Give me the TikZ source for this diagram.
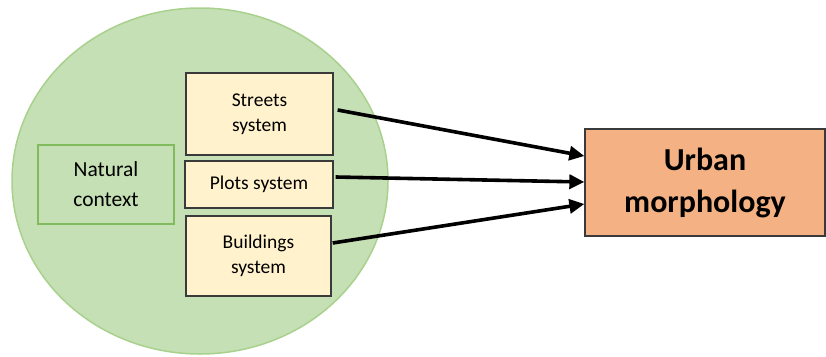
\documentclass[tikz,border=0pt]{standalone}
\usepackage{fontspec}
\setmainfont{Carlito}
\usetikzlibrary{arrows.meta,shapes.geometric}
\definecolor{cfill}{HTML}{C5E0B4}
\definecolor{cline}{HTML}{A9D18E}
\definecolor{nline}{HTML}{82BA5E}
\definecolor{yfill}{HTML}{FFF2CC}
\definecolor{bline}{HTML}{3A3A3A}
\definecolor{ofill}{HTML}{F4B183}
\begin{document}
\begin{tikzpicture}[x=1pt,y=-1pt,
  sysbox/.style={draw=bline,line width=1.3pt,fill=yfill,align=center,inner sep=0pt,
    font=\fontsize{19.5}{25}\selectfont},
  natbox/.style={draw=nline,line width=1.2pt,fill=cfill,align=center,inner sep=0pt,
    font=\fontsize{21.5}{30}\selectfont},
  outbox/.style={draw=bline,line width=1.3pt,fill=ofill,align=center,inner sep=0pt,
    font=\fontsize{32}{42}\selectfont\bfseries},
  arr/.style={line width=3.6pt,-{Triangle[length=15pt,width=14pt]}}]
\useasboundingbox (0,0) rectangle (826,356);
\node[ellipse,draw=cline,line width=1.5pt,fill=cfill,minimum width=376pt,minimum height=346pt,inner sep=0pt] (circ) at (200,181) {};
\node[natbox,minimum width=136pt,minimum height=79pt] (nat) at (106,184.5) {Natural\\context};
\node[sysbox,minimum width=147pt,minimum height=82pt] (streets) at (259.5,114) {Streets\\system};
\node[sysbox,minimum width=148pt,minimum height=47pt] (plots) at (259,184.5) {Plots system};
\node[sysbox,minimum width=145pt,minimum height=80pt] (build) at (258.5,256) {Buildings\\system};
\node[outbox,minimum width=240pt,minimum height=107pt] (urban) at (705,182.5) {Urban\\morphology};
\draw[arr] ([xshift=4pt,yshift=4pt]streets.east) -- ([yshift=26.5pt]urban.west);
\draw[arr] ([xshift=2pt,yshift=7.5pt]plots.east) -- ([yshift=0.5pt]urban.west);
\draw[arr] ([xshift=1pt,yshift=13pt]build.east) -- ([yshift=-21.5pt]urban.west);
\end{tikzpicture}
\end{document}
